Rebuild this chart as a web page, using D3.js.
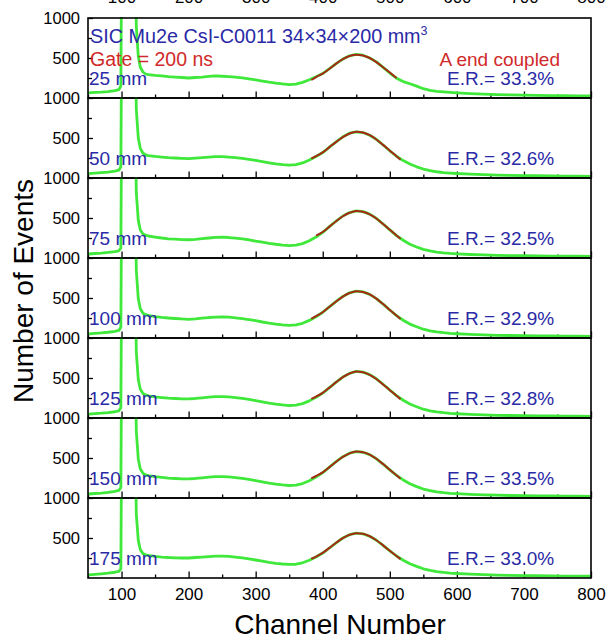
<!DOCTYPE html>
<html lang="en">
  <head>
    <meta charset="utf-8" />
    <title>SIC Mu2e CsI-C0011 spectra</title>
    <script src="https://d3js.org/d3.v7.min.js"></script>
    <style>
      body {
        margin: 0;
        background: #fff;
        font-family: "Liberation Sans", Arial, sans-serif;
      }
      .axis text {
        font-family: "Liberation Sans", Arial, sans-serif;
        fill: #000;
      }
      .axis line {
        stroke: #000;
        stroke-width: 1.3;
      }
    </style>
  </head>
  <body>
    <svg id="chart"></svg>
    <script>
      // channel samples (x) shared by all spectra
      const channels = [50, 60, 70, 80, 90, 96, 99, 101, 105, 110, 115, 119, 122, 125, 128, 132, 136, 140,
        150, 160, 170, 180, 190, 200, 210, 220, 230, 240, 250, 260, 270, 280, 290, 300, 310, 320, 330, 340,
        350, 360, 370, 380, 390, 400, 410, 420, 430, 440, 450, 460, 470, 480, 490, 500, 510, 520, 530, 540,
        550, 560, 570, 580, 590, 600, 620, 640, 660, 680, 700, 720, 740, 760, 780, 800];

      const counts25 = [64, 70, 74, 80, 92, 105, 150, 3000, 3000, 3000, 3000, 3000, 900, 520, 385, 325, 300, 292,
        282, 276, 268, 262, 256, 250, 256, 262, 270, 276, 272, 268, 260, 252, 240, 226, 212, 198, 186, 176,
        168, 174, 196, 228, 266, 306, 366, 430, 486, 528, 545, 535, 500, 452, 382, 312, 248, 205, 178, 148,
        116, 96, 84, 77, 71, 65, 55, 48, 42, 38, 35, 32, 30, 28, 26, 25];
      const counts50 = [55, 62, 68, 74, 86, 98, 140, 3000, 3000, 3000, 3000, 3000, 860, 500, 370, 310, 290, 280,
        270, 262, 255, 250, 246, 242, 248, 254, 262, 268, 266, 262, 255, 246, 234, 220, 205, 190, 176, 166,
        160, 166, 188, 225, 268, 318, 385, 452, 515, 560, 577, 568, 535, 482, 412, 340, 272, 218, 175, 140,
        112, 92, 78, 68, 62, 56, 48, 42, 37, 33, 30, 28, 26, 24, 22, 21];
      const counts75 = [50, 56, 62, 70, 80, 90, 125, 3000, 3000, 3000, 3000, 3000, 820, 470, 350, 300, 285, 275,
        262, 250, 240, 236, 230, 228, 234, 242, 250, 258, 260, 256, 248, 240, 228, 212, 198, 184, 172, 162,
        155, 160, 180, 215, 262, 320, 392, 462, 525, 568, 590, 580, 548, 495, 425, 352, 280, 222, 172, 138,
        108, 88, 74, 64, 57, 52, 44, 38, 33, 30, 28, 26, 24, 23, 22, 21];
      const counts100 = [52, 58, 64, 72, 84, 95, 135, 3000, 3000, 3000, 3000, 3000, 850, 490, 365, 310, 292, 282,
        268, 258, 250, 244, 238, 234, 240, 248, 256, 262, 264, 260, 252, 243, 231, 216, 200, 186, 174, 164,
        158, 163, 184, 220, 266, 322, 390, 458, 520, 565, 585, 576, 545, 492, 424, 350, 280, 222, 174, 140,
        110, 90, 76, 66, 58, 53, 45, 39, 34, 31, 28, 26, 25, 23, 22, 21];
      const counts125 = [48, 55, 60, 68, 78, 90, 128, 3000, 3000, 3000, 3000, 3000, 830, 480, 360, 305, 288, 278,
        265, 256, 248, 244, 240, 238, 244, 252, 260, 266, 268, 264, 256, 246, 234, 218, 202, 187, 174, 164,
        156, 160, 180, 214, 258, 312, 380, 448, 512, 558, 582, 574, 542, 490, 422, 350, 280, 222, 175, 140,
        110, 90, 76, 66, 58, 53, 45, 39, 34, 31, 28, 26, 25, 23, 22, 21];
      const counts150 = [50, 56, 62, 70, 82, 94, 132, 3000, 3000, 3000, 3000, 3000, 840, 485, 362, 308, 290, 280,
        266, 257, 249, 244, 240, 238, 244, 252, 260, 266, 267, 263, 255, 245, 233, 217, 201, 186, 173, 163,
        156, 160, 181, 216, 262, 318, 386, 454, 516, 560, 580, 572, 542, 490, 424, 352, 283, 226, 178, 142,
        112, 92, 77, 67, 59, 54, 46, 40, 35, 31, 28, 26, 25, 23, 22, 21];
      const counts175 = [38, 45, 52, 60, 72, 82, 115, 3000, 3000, 3000, 3000, 3000, 800, 470, 355, 305, 290, 282,
        270, 262, 256, 252, 250, 250, 256, 262, 268, 274, 274, 270, 262, 252, 240, 225, 210, 196, 184, 175,
        170, 172, 190, 222, 262, 312, 375, 440, 500, 542, 560, 552, 522, 472, 408, 340, 275, 222, 178, 145,
        115, 94, 80, 70, 62, 56, 48, 42, 37, 33, 30, 28, 26, 24, 23, 22];

      // gaussian fit curves (red)
      const fitChannels = [383, 390, 400, 410, 420, 430, 440, 450, 460, 470, 480, 490, 500, 510, 516];
      const fit25 = [225, 262, 305, 365, 430, 485, 525, 542, 532, 500, 448, 385, 318, 250, null];
      const fit50 = [242, 272, 320, 386, 452, 512, 556, 577, 568, 535, 482, 414, 342, 272, 228];
      const fit75 = [null, 280, 325, 392, 460, 522, 565, 588, 578, 546, 494, 425, 352, 282, 240];
      const fit100 = [240, 272, 322, 390, 456, 518, 562, 585, 576, 545, 492, 424, 350, 280, 238];
      const fit125 = [240, 268, 315, 380, 448, 510, 556, 580, 572, 540, 488, 420, 348, 278, 236];
      const fit150 = [244, 275, 320, 386, 454, 514, 558, 580, 572, 542, 490, 424, 352, 283, 240];
      const fit175 = [240, 268, 314, 376, 440, 498, 540, 560, 552, 522, 472, 408, 340, 275, 236];

      const distances = ["25 mm", "50 mm", "75 mm", "100 mm", "125 mm", "150 mm", "175 mm"];
      const resolutions = ["33.3%", "32.6%", "32.5%", "32.9%", "32.8%", "33.5%", "33.0%"];
      const spectra = [counts25, counts50, counts75, counts100, counts125, counts150, counts175];
      const fits = [fit25, fit50, fit75, fit100, fit125, fit150, fit175];

      const xMajor = [100, 200, 300, 400, 500, 600, 700, 800];
      const xMinor = [50, 150, 250, 350, 450, 550, 650, 750];
      const yLabels = [500, 1000];
      const yMinor = [250, 750];

      const width = 607;
      const height = 636;
      const margin = { left: 88, right: 591, top: 18 };
      const panelH = 80;

      const blue = "#2a2aa6";
      const red = "#d02a2a";

      const svg = d3.select("#chart").attr("width", width).attr("height", height);

      const x = d3.scaleLinear().domain([50, 800]).range([margin.left, margin.right]);

      const greenLine = d3
        .line()
        .x((d) => x(d[0]))
        .y((d) => d[2](d[1]));

      spectra.forEach((counts, i) => {
        const y0 = margin.top + i * panelH;
        const y = d3.scaleLinear().domain([0, 1000]).range([y0 + panelH, y0]);
        const g = svg.append("g").attr("class", "panel");

        svg
          .append("clipPath")
          .attr("id", `clip${i}`)
          .append("rect")
          .attr("x", margin.left)
          .attr("y", y0 - 1)
          .attr("width", margin.right - margin.left)
          .attr("height", panelH + 1);

        // bottom ticks (inward)
        const gx = g
          .append("g")
          .attr("class", "axis")
          .attr("transform", `translate(0,${y0 + panelH})`)
          .call(
            d3
              .axisBottom(x)
              .tickValues(xMajor)
              .tickSizeInner(-6.5)
              .tickSizeOuter(0)
              .tickPadding(10)
              .tickFormat(i === spectra.length - 1 ? d3.format("d") : "")
          );
        gx.selectAll("text").style("font-size", "17px");
        gx.select(".domain").remove();

        g.append("g")
          .attr("class", "axis")
          .attr("transform", `translate(0,${y0 + panelH})`)
          .call(d3.axisBottom(x).tickValues(xMinor).tickSizeInner(-3.5).tickSizeOuter(0).tickFormat(""))
          .select(".domain")
          .remove();

        // left ticks
        const gy = g
          .append("g")
          .attr("class", "axis")
          .attr("transform", `translate(${margin.left},0)`)
          .call(
            d3
              .axisLeft(y)
              .tickValues(yLabels)
              .tickSizeInner(-5)
              .tickSizeOuter(0)
              .tickPadding(8)
              .tickFormat(d3.format("d"))
          );
        gy.selectAll("text").style("font-size", "16.5px");
        gy.select(".domain").remove();

        g.append("g")
          .attr("class", "axis")
          .attr("transform", `translate(${margin.left},0)`)
          .call(d3.axisLeft(y).tickValues(yMinor).tickSizeInner(-4).tickSizeOuter(0).tickFormat(""))
          .select(".domain")
          .remove();

        // spectrum
        const pts = channels.map((c, k) => [c, counts[k], y]);
        g.append("path")
          .datum(pts)
          .attr("clip-path", `url(#clip${i})`)
          .attr("d", greenLine)
          .attr("fill", "none")
          .attr("stroke", "#3fe83a")
          .attr("stroke-width", 2.8)
          .attr("stroke-linejoin", "round");

        // fit
        const fitLine = d3
          .line()
          .defined((d) => d[1] != null)
          .curve(d3.curveMonotoneX)
          .x((d) => x(d[0]))
          .y((d) => y(d[1]));
        g.append("path")
          .datum(fitChannels.map((c, k) => [c, fits[i][k]]))
          .attr("d", fitLine)
          .attr("fill", "none")
          .attr("stroke", "#a82818")
          .attr("stroke-width", 2);

        g.append("rect")
          .attr("x", margin.left)
          .attr("y", y0)
          .attr("width", margin.right - margin.left)
          .attr("height", panelH)
          .attr("fill", "none")
          .attr("stroke", "#000")
          .attr("stroke-width", 1.6);

        g.append("text")
          .attr("x", margin.left + 1)
          .attr("y", y0 + 67)
          .attr("fill", blue)
          .style("font-size", "19px")
          .text(distances[i]);

        g.append("text")
          .attr("x", 447)
          .attr("y", y0 + 67)
          .attr("fill", blue)
          .style("font-size", "19px")
          .text(`E.R.= ${resolutions[i]}`);
      });

      // top axis labels, mostly cut off by the window edge as in the original figure
      const gTop = svg
        .append("g")
        .attr("class", "axis")
        .attr("transform", `translate(0,${margin.top})`)
        .call(d3.axisTop(x).tickValues(xMajor).tickSize(0).tickPadding(15));
      gTop.selectAll("text").style("font-size", "17px");
      gTop.select(".domain").remove();

      const title = svg
        .append("text")
        .attr("x", 90)
        .attr("y", 43)
        .attr("fill", blue)
        .style("font-size", "19.8px")
        .text("SIC Mu2e CsI-C0011 34\u00d734\u00d7200 mm");
      title.append("tspan").attr("dy", -8).style("font-size", "12.5px").text("3");

      svg
        .append("text")
        .attr("x", 90)
        .attr("y", 65.5)
        .attr("fill", red)
        .style("font-size", "19.5px")
        .text("Gate = 200 ns");

      svg
        .append("text")
        .attr("x", 560)
        .attr("y", 65.5)
        .attr("text-anchor", "end")
        .attr("fill", red)
        .style("font-size", "19px")
        .text("A end coupled");

      svg
        .append("text")
        .attr("x", 340)
        .attr("y", 634)
        .attr("text-anchor", "middle")
        .style("font-size", "28px")
        .text("Channel Number");

      svg
        .append("text")
        .attr("transform", "translate(33,291) rotate(-90)")
        .attr("text-anchor", "middle")
        .style("font-size", "28px")
        .text("Number of Events");
    </script>
  </body>
</html>
